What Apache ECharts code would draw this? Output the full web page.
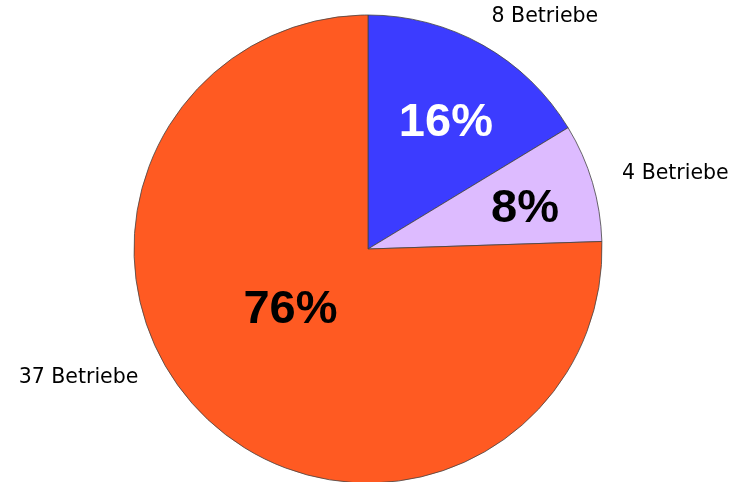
<!DOCTYPE html>
<html>
<head>
<meta charset="utf-8">
<script src="https://cdn.jsdelivr.net/npm/echarts@6/dist/echarts.min.js"></script>
<style>html,body{margin:0;padding:0;background:#fff}#c{width:735px;height:482px}</style>
</head>
<body>
<div id="c"></div>
<script>
var categories = ['8 Betriebe', '4 Betriebe', '37 Betriebe'];
var values = [8, 4, 37];
var percentLabels = ['16%', '8%', '76%'];
var colors = ['#3C3CFF', '#DDBBFF', '#FF5A22'];
var innerTextColors = ['#ffffff', '#000000', '#000000'];

var innerOffsets = [[19, -21], [42, -6], [6, -25]];
var outerOffsets = [[-11, -2], [-4, 0], [-41, -61]];

var chart = echarts.init(document.getElementById('c'));

var innerData = values.map(function (v, i) {
  return {
    name: categories[i], value: v,
    itemStyle: { color: colors[i] },
    label: { color: innerTextColors[i] }
  };
});
var outerData = values.map(function (v, i) {
  return { name: categories[i], value: v };
});

chart.setOption({
  animation: false,
  series: [
    {
      type: 'pie',
      center: [368, 249],
      radius: 234,
      startAngle: 90,
      clockwise: true,
      silent: true,
      data: innerData,
      itemStyle: { borderColor: '#444', borderWidth: 0.8 },
      label: {
        show: true,
        position: 'inside',
        formatter: function (p) { return percentLabels[p.dataIndex]; },
        fontFamily: 'Liberation Sans, Arial, sans-serif',
        fontWeight: 'bold',
        fontSize: 47
      },
      labelLine: { show: false },
      labelLayout: function (p) {
        var o = innerOffsets[p.dataIndex];
        return { dx: o[0], dy: o[1] };
      }
    },
    {
      type: 'pie',
      center: [368, 249],
      radius: 234,
      startAngle: 90,
      clockwise: true,
      silent: true,
      data: outerData,
      itemStyle: { color: 'rgba(0,0,0,0)', borderWidth: 0 },
      label: {
        show: true,
        position: 'outside',
        formatter: '{b}',
        color: '#000',
        overflow: 'none',
        fontFamily: 'DejaVu Sans, sans-serif',
        fontSize: 20.5
      },
      labelLine: { show: false, length: 30, length2: 0 },
      labelLayout: function (p) {
        var o = outerOffsets[p.dataIndex];
        return { dx: o[0], dy: o[1] };
      }
    }
  ]
});
</script>
</body>
</html>
